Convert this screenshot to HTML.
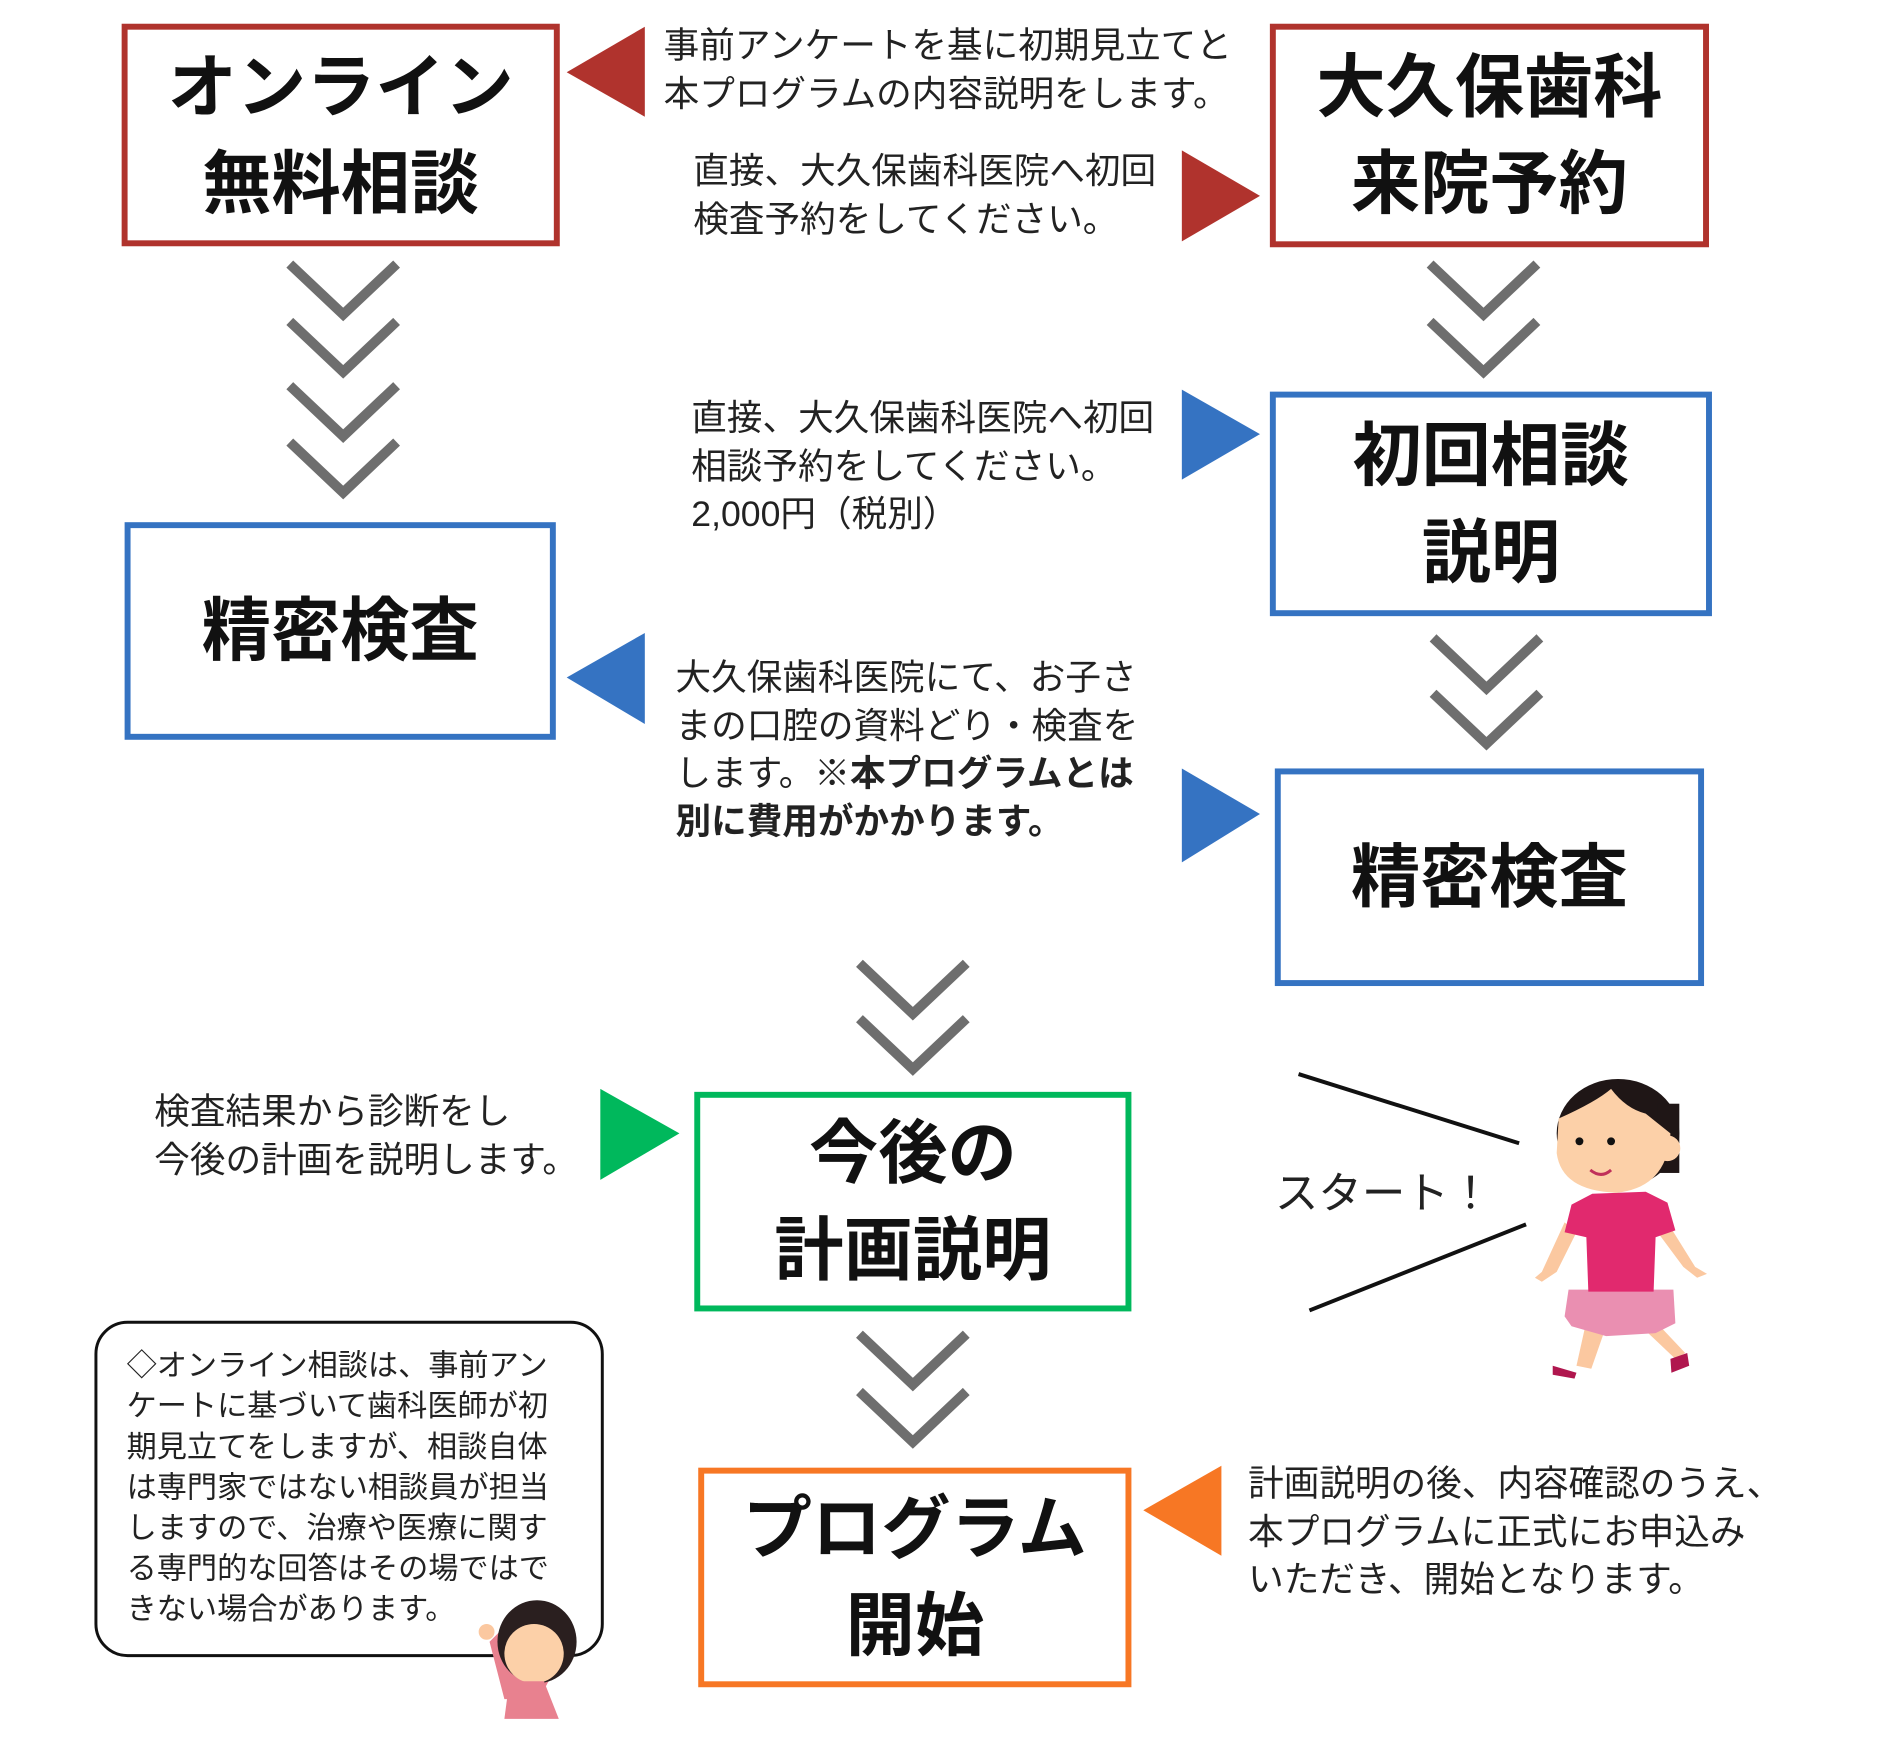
<!DOCTYPE html>
<html><head><meta charset="utf-8"><style>
body{margin:0;width:1890px;height:1748px;background:#fff;position:relative;overflow:hidden;font-family:"Liberation Sans","Noto Sans CJK JP",sans-serif;color:#222}
#w{position:absolute;left:0;top:0;width:1890px;height:1748px;transform:scale(0.989);transform-origin:0 0}
.box{position:absolute;box-sizing:border-box;border:6px solid;background:#fff;display:flex;flex-direction:column;align-items:center;justify-content:center;font-weight:bold;font-size:70px;line-height:98px;color:#111}
.t{position:absolute;font-size:36px;line-height:48.5px;white-space:nowrap;color:#222}
svg{position:absolute;left:0;top:0}
</style></head><body><div id="w">
<svg width="1890" height="1748">
<g fill="#b0332d">
<polygon points="573,73 652,27 652,118"/>
<polygon points="1195,152 1274,198 1195,244"/>
</g>
<g fill="#3573c2">
<polygon points="1195,394 1274,439 1195,485"/>
<polygon points="573,685 652,640 652,732"/>
<polygon points="1195,777 1274,823 1195,872"/>
</g>
<polygon points="607,1101 687,1146 607,1193" fill="#00b85c"/>
<polygon points="1156,1527 1235,1482 1235,1573" fill="#f77724"/>
<g fill="none" stroke="#6e6e6e" stroke-width="10">
<polyline points="293,267 347,318 401,267"/><polyline points="293,325 347,376 401,325"/>
<polyline points="293,390 347,441 401,390"/><polyline points="293,447 347,498 401,447"/>
<polyline points="1446,267 1500,318 1554,267"/><polyline points="1446,325 1500,376 1554,325"/>
<polyline points="1449,645 1503,696 1557,645"/><polyline points="1449,701 1503,752 1557,701"/>
<polyline points="869,974 923,1025 977,974"/><polyline points="869,1030 923,1081 977,1030"/>
<polyline points="869,1349 923,1400 977,1349"/><polyline points="869,1407 923,1458 977,1407"/>
</g>
<g stroke="#111" stroke-width="4">
<line x1="1313" y1="1086" x2="1536" y2="1156"/>
<line x1="1324" y1="1325" x2="1543" y2="1238"/>
</g>
<rect x="97" y="1337" width="512" height="337" rx="32" fill="#fff" stroke="#111" stroke-width="3"/>
<g transform="translate(14,-4)">
<path d="M1568 1240 L1545 1290 L1538 1296 L1545 1300 L1560 1290 L1580 1250Z" fill="#fbc8a0"/>
<path d="M1672 1240 L1700 1285 L1712 1292 L1702 1296 L1688 1285 L1662 1250Z" fill="#fbc8a0"/>
<path d="M1590 1340 L1580 1385 L1595 1388 L1610 1345Z" fill="#fbc8a0"/>
<path d="M1640 1340 L1680 1378 L1690 1372 L1655 1335Z" fill="#fbc8a0"/>
<path d="M1556 1385 L1580 1392 L1578 1398 L1556 1394Z" fill="#b0164e"/>
<path d="M1675 1378 L1692 1372 L1694 1385 L1676 1392Z" fill="#b0164e"/>
<path d="M1572 1308 L1678 1308 L1680 1342 L1660 1352 L1610 1355 L1575 1345 L1568 1335Z" fill="#ea8fb1"/>
<path d="M1596 1211 L1650 1209 L1672 1220 L1680 1248 L1660 1255 L1658 1310 L1592 1310 L1590 1255 L1568 1250 L1575 1222Z" fill="#e1296e"/>
<ellipse cx="1622" cy="1150" rx="62" ry="55" fill="#1f1616"/>
<rect x="1662" y="1120" width="22" height="70" fill="#1f1616"/>
<path d="M1562 1135 Q1600 1118 1615 1105 Q1630 1125 1650 1130 L1675 1150 Q1672 1205 1620 1210 Q1565 1208 1560 1170Z" fill="#fcd0a8"/>
<circle cx="1672" cy="1165" r="13" fill="#fcd0a8"/>
<circle cx="1583" cy="1158" r="4" fill="#111"/><circle cx="1615" cy="1158" r="4" fill="#111"/>
<path d="M1594 1187 Q1605 1196 1615 1187" stroke="#c0305a" stroke-width="3" fill="none"/>
</g>
<g>
<path d="M495 1660 L510 1718 L545 1718 L560 1690 L540 1680 L515 1690 L505 1650Z" fill="#e8818f"/>
<circle cx="492" cy="1650" r="8" fill="#fbc8a0"/>
<ellipse cx="543" cy="1660" rx="40" ry="42" fill="#2a1f1f"/>
<ellipse cx="540" cy="1672" rx="30" ry="30" fill="#fcd0a8"/>
<path d="M515 1700 L550 1700 L565 1738 L510 1738Z" fill="#e8818f"/>
</g>
</svg>
<div class="box" style="left:123px;top:24px;width:443px;height:225px;border-color:#b0332d"><div>オンライン</div><div>無料相談</div></div>
<div class="box" style="left:1284px;top:24px;width:444px;height:226px;border-color:#b0332d"><div>大久保歯科</div><div>来院予約</div></div>
<div class="box" style="left:1284px;top:396px;width:447px;height:227px;border-color:#3573c2"><div>初回相談</div><div>説明</div></div>
<div class="box" style="left:126px;top:528px;width:436px;height:220px;border-color:#3573c2"><div>精密検査</div></div>
<div class="box" style="left:1289px;top:777px;width:434px;height:220px;border-color:#3573c2"><div>精密検査</div></div>
<div class="box" style="left:702px;top:1104px;width:442px;height:222px;border-color:#00b85c"><div>今後の</div><div>計画説明</div></div>
<div class="box" style="left:706px;top:1484px;width:438px;height:222px;border-color:#f77724"><div>プログラム</div><div>開始</div></div>
<div class="t" style="left:671px;top:22px">事前アンケートを基に初期見立てと<br>本プログラムの内容説明をします。</div>
<div class="t" style="left:701px;top:149px">直接、大久保歯科医院へ初回<br>検査予約をしてください。</div>
<div class="t" style="left:699px;top:399px">直接、大久保歯科医院へ初回<br>相談予約をしてください。<br>2,000円（税別）</div>
<div class="t" style="left:683px;top:661px">大久保歯科医院にて、お子さ<br>まの口腔の資料どり・検査を<br>します。<b>※本プログラムとは<br>別に費用がかかります。</b></div>
<div class="t" style="left:156px;top:1100px">検査結果から診断をし<br>今後の計画を説明します。</div>
<div class="t" style="left:1289px;top:1180px;font-size:44px;line-height:56px">スタート！</div>
<div class="t" style="left:1262px;top:1476px">計画説明の後、内容確認のうえ、<br>本プログラムに正式にお申込み<br>いただき、開始となります。</div>
<div class="t" style="left:128px;top:1361px;font-size:30.5px;line-height:41px">◇オンライン相談は、事前アン<br>ケートに基づいて歯科医師が初<br>期見立てをしますが、相談自体<br>は専門家ではない相談員が担当<br>しますので、治療や医療に関す<br>る専門的な回答はその場ではで<br>きない場合があります。</div>
</div></body></html>
